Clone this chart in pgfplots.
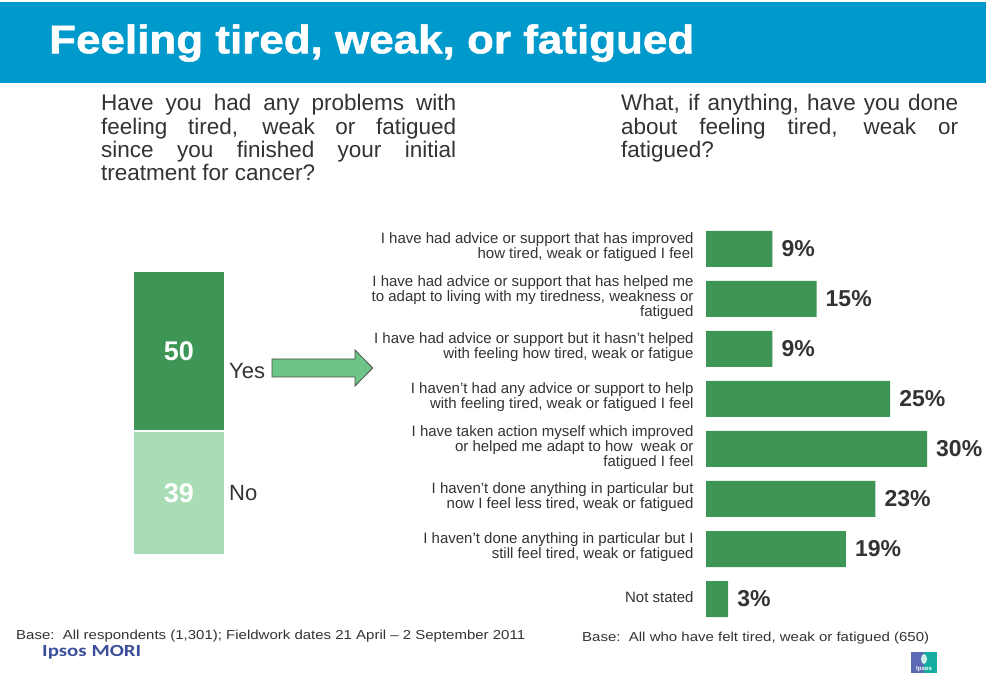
\documentclass[border=0pt]{standalone}
\usepackage{graphicx}
\usepackage{pgfplots}
\pgfplotsset{compat=1.18}
\usepackage{fontspec}
\setmainfont{Liberation Sans}
\newfontfamily\titlefont{Liberation Sans}[BoldFeatures={FakeBold=1.3}]
\newfontfamily\carlito{Carlito}
\definecolor{banner}{RGB}{0,153,204}
\definecolor{dkgreen}{RGB}{61,150,86}
\definecolor{ltgreen}{RGB}{168,221,181}
\definecolor{arrowgreen}{RGB}{108,196,134}
\definecolor{txt}{RGB}{51,51,51}
\definecolor{ipsosblue}{RGB}{59,78,154}
\definecolor{logoblue}{RGB}{90,106,180}
\definecolor{logoteal}{RGB}{20,172,160}

\begin{document}
\begin{tikzpicture}[x=1pt,y=1pt]
\useasboundingbox (0,0) rectangle (986,673);
\fill[white] (0,0) rectangle (986,673);
% title banner
\fill[banner] (0,590) rectangle (986,671);
\node[anchor=base west, inner sep=0, text=white] at (49,619.7)
  {\resizebox{645pt}{\height}{\titlefont\bfseries\fontsize{40}{44}\selectfont Feeling tired, weak, or fatigued}};
% questions
\node[anchor=base west, inner sep=0, text=txt] at (101,562)
  {\parbox[t]{355pt}{\fontsize{22.5}{23.3}\selectfont\hyphenpenalty=10000 \tolerance=10000
   Have you had any problems with\linebreak feeling tired, weak or fatigued\linebreak since you finished your initial\linebreak treatment for cancer?}};
\node[anchor=base west, inner sep=0, text=txt] at (621,562)
  {\parbox[t]{337pt}{\fontsize{22.5}{23.3}\selectfont\hyphenpenalty=10000 \tolerance=10000
   What, if anything, have you done\linebreak about feeling tired, weak or\linebreak fatigued?}};
% base notes
\node[anchor=base west, inner sep=0, text=txt] at (16,34)
  {\resizebox{509pt}{\height}{\fontsize{13}{15}\selectfont Base:\ \ All respondents (1,301); Fieldwork dates 21 April – 2 September 2011}};
\node[anchor=base west, inner sep=0, text=txt] at (582,32)
  {\resizebox{347pt}{\height}{\fontsize{13}{15}\selectfont Base:\ \ All who have felt tired, weak or fatigued (650)}};
% logos
\node[anchor=base west, inner sep=0, text=ipsosblue] at (42,17)
  {\resizebox{99pt}{\height}{\carlito\bfseries\fontsize{17}{20}\selectfont Ipsos MORI}};
\fill[logoblue] (911,0) rectangle (924,21);
\fill[logoteal] (924,0) rectangle (937,21);
\fill[white!80!logoteal] (924,14) ellipse (3pt and 5pt);
\node[text=white, inner sep=0, font=\fontsize{6}{6}\selectfont\bfseries] at (924,4) {Ipsos};

% left stacked bar
\begin{axis}[at={(133pt,118pt)}, anchor=south west, scale only axis,
  width=92pt, height=284pt, xmin=-0.5, xmax=0.5, ymin=0, ymax=89,
  ybar stacked, bar width=92pt, axis lines=none, clip=false,
  /pgf/number format/assume math mode=true,
  point meta=rawy,
  nodes near coords,
  every node near coord/.append style={anchor=center, text=white,
    font=\fontsize{27}{30}\selectfont\bfseries}]
\addplot[fill=ltgreen, draw=white, line width=2pt] coordinates {(0,39)};
\addplot[fill=dkgreen, draw=white, line width=2pt] coordinates {(0,50)};
\end{axis}
\node[anchor=base west, inner sep=0, text=txt, font=\fontsize{22}{24}\selectfont] at (229,294) {Yes};
\node[anchor=base west, inner sep=0, text=txt, font=\fontsize{22}{24}\selectfont] at (229,172) {No};
% arrow
\filldraw[fill=arrowgreen, draw=black!70, line width=0.8pt]
  (272,296) -- (355,296) -- (355,287) -- (372.7,305) -- (355,323) -- (355,314) -- (272,314) -- cycle;

% right bar chart
\begin{axis}[at={(706pt,49pt)}, anchor=south west, scale only axis,
  width=221pt, height=400pt, xmin=0, xmax=30, ymin=-0.5, ymax=7.5,
  xbar, bar width=36pt,
  axis line style={draw=none}, tick style={draw=none},
  xtick=\empty, ytick={0,...,7},
  yticklabels={{Not stated},
    {I haven’t done anything in particular but I\\still feel tired, weak or fatigued},
    {I haven’t done anything in particular but\\now I feel less tired, weak or fatigued},
    {I have taken action myself which improved\\or helped me adapt to how\ \ weak or\\fatigued I feel},
    {I haven’t had any advice or support to help\\with feeling tired, weak or fatigued I feel},
    {I have had advice or support but it hasn’t helped\\with feeling how tired, weak or fatigue},
    {I have had advice or support that has helped me\\to adapt to living with my tiredness, weakness or\\fatigued},
    {I have had advice or support that has improved\\how tired, weak or fatigued I feel}},
  yticklabel style={font=\fontsize{15}{10.5}\selectfont, align=right, inner sep=0pt,
    xshift=-8pt, yshift=1.5pt, text=txt},
  /pgf/number format/assume math mode=true,
  nodes near coords={\pgfmathprintnumber{\pgfplotspointmeta}\%},
  every node near coord/.append style={anchor=west, inner sep=0pt, xshift=9pt, text=txt,
    font=\fontsize{23}{26}\selectfont\bfseries},
  clip=false]
\addplot[fill=dkgreen, draw=none]
  coordinates {(3,0) (19,1) (23,2) (30,3) (25,4) (9,5) (15,6) (9,7)};
\end{axis}
\end{tikzpicture}
\end{document}
